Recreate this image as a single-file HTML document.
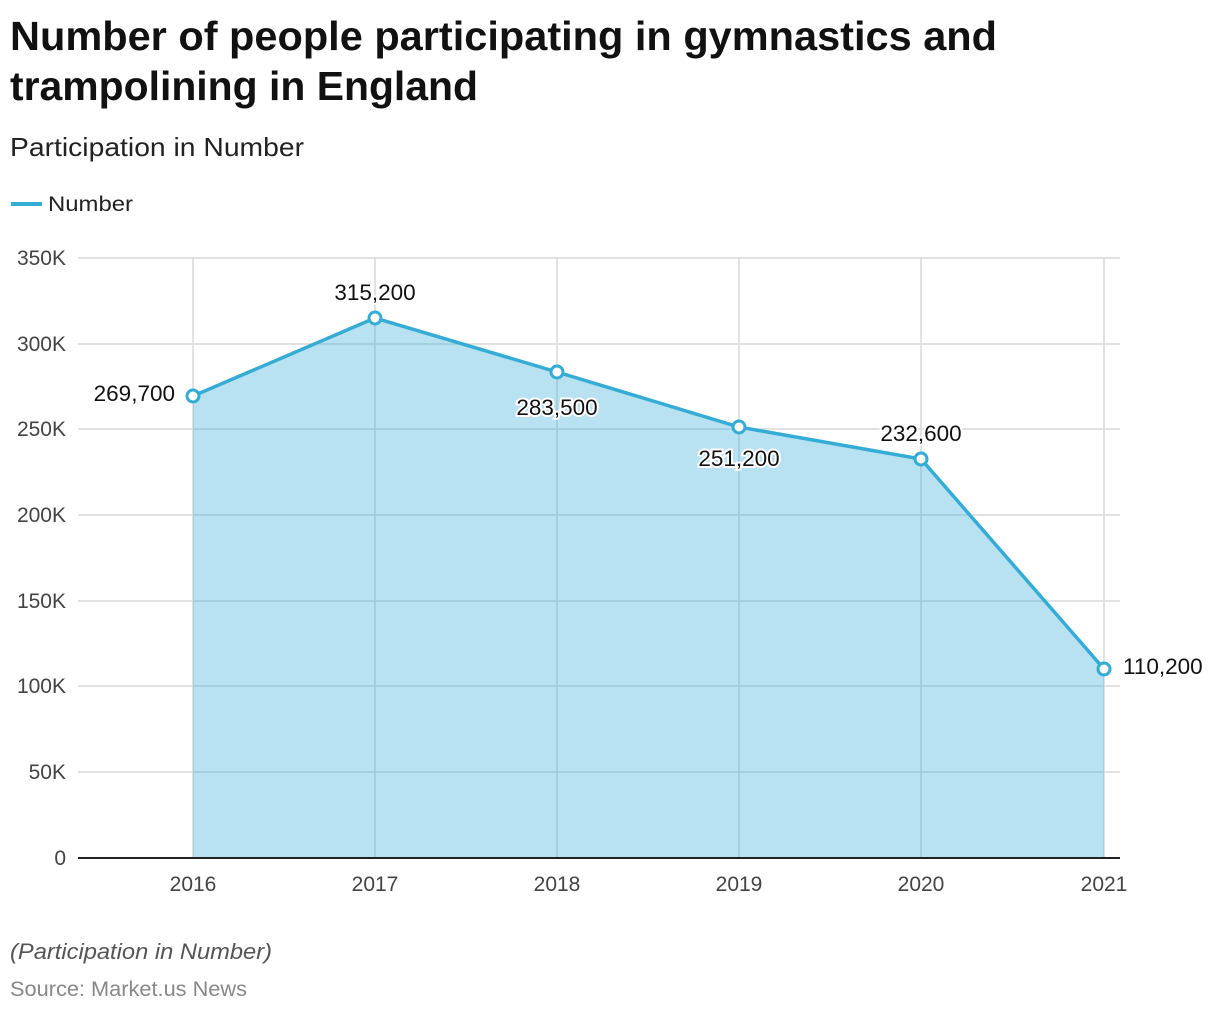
<!DOCTYPE html>
<html><head><style>
body{margin:0;background:#fff;width:1220px;height:1012px;overflow:hidden;font-family:"Liberation Sans",sans-serif}
</style></head><body>
<svg width="1220" height="1012" xmlns="http://www.w3.org/2000/svg" font-family="Liberation Sans, sans-serif">
<text x="10" y="50" font-size="41" font-weight="bold" fill="#111" textLength="987" lengthAdjust="spacingAndGlyphs">Number of people participating in gymnastics and</text>
<text x="10" y="100" font-size="41" font-weight="bold" fill="#111" textLength="468" lengthAdjust="spacingAndGlyphs">trampolining in England</text>
<text x="10" y="156" font-size="26" fill="#222" textLength="294" lengthAdjust="spacingAndGlyphs">Participation in Number</text>
<line x1="11" y1="204" x2="42" y2="204" stroke="#35acd6" stroke-width="4"/>
<text x="48" y="211" font-size="21" fill="#222" textLength="85" lengthAdjust="spacingAndGlyphs">Number</text>
<g stroke="#d9d9d9" stroke-width="1.5">
<line x1="78" y1="258" x2="1120" y2="258"/><line x1="78" y1="344" x2="1120" y2="344"/>
<line x1="78" y1="429" x2="1120" y2="429"/><line x1="78" y1="515" x2="1120" y2="515"/>
<line x1="78" y1="601" x2="1120" y2="601"/><line x1="78" y1="686" x2="1120" y2="686"/>
<line x1="78" y1="772" x2="1120" y2="772"/>
<line x1="193" y1="258" x2="193" y2="858"/><line x1="375" y1="258" x2="375" y2="858"/>
<line x1="557" y1="258" x2="557" y2="858"/><line x1="739" y1="258" x2="739" y2="858"/>
<line x1="921" y1="258" x2="921" y2="858"/><line x1="1104" y1="258" x2="1104" y2="858"/>
</g>
<polygon points="193,858 193,396 375,318 557,372 739,427 921,459 1104,669 1104,858" fill="#35acd6" fill-opacity="0.35"/>
<polyline points="193,396 375,318 557,372 739,427 921,459 1104,669" fill="none" stroke="#35acd6" stroke-width="3.5"/>
<g fill="#fff" stroke="#35acd6" stroke-width="3">
<circle cx="193" cy="396" r="6"/><circle cx="375" cy="318" r="6"/><circle cx="557" cy="372" r="6"/>
<circle cx="739" cy="427" r="6"/><circle cx="921" cy="459" r="6"/><circle cx="1104" cy="669" r="6"/>
</g>
<line x1="78" y1="858" x2="1120" y2="858" stroke="#222" stroke-width="2"/>
<g font-size="21" fill="#444" text-anchor="end">
<text x="66" y="265">350K</text><text x="66" y="351">300K</text><text x="66" y="436">250K</text>
<text x="66" y="522">200K</text><text x="66" y="608">150K</text><text x="66" y="693">100K</text>
<text x="66" y="779">50K</text><text x="66" y="865">0</text>
</g>
<g font-size="21" fill="#444" text-anchor="middle">
<text x="193" y="891">2016</text><text x="375" y="891">2017</text><text x="557" y="891">2018</text>
<text x="739" y="891">2019</text><text x="921" y="891">2020</text><text x="1104" y="891">2021</text>
</g>
<g font-size="22.5" fill="#111" stroke="#fff" stroke-width="4" paint-order="stroke">
<text x="175" y="401" text-anchor="end">269,700</text>
<text x="375" y="300" text-anchor="middle">315,200</text>
<text x="557" y="415" text-anchor="middle">283,500</text>
<text x="739" y="466" text-anchor="middle">251,200</text>
<text x="921" y="441" text-anchor="middle">232,600</text>
<text x="1123" y="674">110,200</text>
</g>
<text x="10" y="959" font-size="22" font-style="italic" fill="#555" textLength="262" lengthAdjust="spacingAndGlyphs">(Participation in Number)</text>
<text x="10" y="996" font-size="21" fill="#888" textLength="237" lengthAdjust="spacingAndGlyphs">Source: Market.us News</text>
</svg>
</body></html>
